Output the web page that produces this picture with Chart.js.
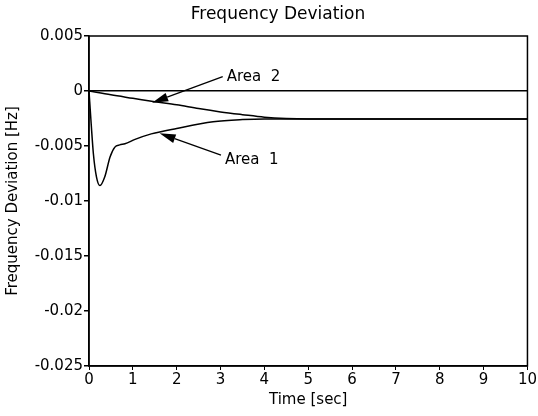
<!DOCTYPE html>
<html>
<head>
<meta charset="utf-8">
<script src="https://cdn.jsdelivr.net/npm/chart.js@4"></script>
<style>
  html, body { margin: 0; padding: 0; background: #fff; }
  #wrap { width: 538px; height: 416px; }
</style>
</head>
<body>
<div id="wrap"><canvas id="freqChart"></canvas></div>
<script>
// time axis (sec) and frequency deviation (Hz)
const area1Time = [0, 0.05, 0.1, 0.17, 0.25, 0.36, 0.48, 0.59, 0.7, 0.82, 1.05, 1.42, 2.0, 2.83, 3.5, 4.0, 5, 6, 7, 8, 9, 10];
const area1Dev = [0, -0.003, -0.0057, -0.0078, -0.0086, -0.0078, -0.006, -0.0051, -0.0049, -0.0048, -0.0044, -0.0039, -0.0034, -0.0028, -0.0026, -0.00254, -0.00254, -0.00254, -0.00254, -0.00254, -0.00254, -0.00254];

const area2Time = [0, 0.5, 1.0, 1.5, 2.0, 2.5, 3.0, 3.5, 4.0, 4.5, 5, 6, 7, 8, 9, 10];
const area2Dev = [0, -0.00035, -0.00066, -0.00097, -0.00126, -0.0016, -0.0019, -0.00215, -0.00238, -0.0025, -0.00254, -0.00254, -0.00254, -0.00254, -0.00254, -0.00254];

const xTicks = [0, 1, 2, 3, 4, 5, 6, 7, 8, 9, 10];
const yTicks = [0.005, 0, -0.005, -0.01, -0.015, -0.02, -0.025];

// arrow callouts: label, text anchor, arrow tail, arrow tip (data units)
const callouts = [
  {text: 'Area  2', at: [3.14, 0.00127], tail: [3.05, 0.0013], tip: [1.44, -0.00106]},
  {text: 'Area  1', at: [3.1, -0.00627], tail: [3.01, -0.00582], tip: [1.61, -0.00385]}
];

const chartTitle = 'Frequency Deviation';

const toPoints = (xs, ys) => xs.map((x, i) => ({x: x, y: ys[i]}));

const font = "'DejaVu Sans', 'Liberation Sans', sans-serif";

const frameAndArrows = {
  id: 'frameAndArrows',
  afterDatasetsDraw(chart) {
    const {ctx, chartArea, scales} = chart;
    ctx.save();
    ctx.strokeStyle = '#000';
    ctx.lineWidth = 1.5;
    ctx.strokeRect(chartArea.left, chartArea.top, chartArea.right - chartArea.left, chartArea.bottom - chartArea.top);

    ctx.fillStyle = '#000';
    ctx.textBaseline = 'middle';

    // title sits a little left of the plot centre, as in the original
    ctx.font = '17px ' + font;
    ctx.textAlign = 'center';
    ctx.fillText(chartTitle, 278, 15);

    ctx.font = '15px ' + font;
    ctx.textAlign = 'left';
    callouts.forEach(c => {
      const tx = scales.x.getPixelForValue(c.tail[0]);
      const ty = scales.y.getPixelForValue(c.tail[1]);
      const hx = scales.x.getPixelForValue(c.tip[0]);
      const hy = scales.y.getPixelForValue(c.tip[1]);
      const ang = Math.atan2(hy - ty, hx - tx);
      const len = 16, half = 4.5;
      const bx = hx - len * Math.cos(ang), by = hy - len * Math.sin(ang);
      ctx.lineWidth = 1.3;
      ctx.beginPath();
      ctx.moveTo(tx, ty);
      ctx.lineTo(bx, by);
      ctx.stroke();
      ctx.beginPath();
      ctx.moveTo(hx, hy);
      ctx.lineTo(bx + half * Math.sin(ang), by - half * Math.cos(ang));
      ctx.lineTo(bx - half * Math.sin(ang), by + half * Math.cos(ang));
      ctx.closePath();
      ctx.fill();
      ctx.fillText(c.text, scales.x.getPixelForValue(c.at[0]), scales.y.getPixelForValue(c.at[1]));
    });
    ctx.restore();
  }
};

new Chart(document.getElementById('freqChart'), {
  type: 'line',
  data: {
    datasets: [{
      label: 'Area 1',
      data: toPoints(area1Time, area1Dev),
      borderColor: '#000',
      borderWidth: 1.5,
      pointRadius: 0,
      cubicInterpolationMode: 'monotone',
      fill: false
    }, {
      label: 'Area 2',
      data: toPoints(area2Time, area2Dev),
      borderColor: '#000',
      borderWidth: 1.5,
      pointRadius: 0,
      cubicInterpolationMode: 'monotone',
      fill: false
    }]
  },
  options: {
    responsive: true,
    maintainAspectRatio: false,
    animation: false,
    layout: {padding: {left: 0, right: 9, top: 36, bottom: 0}},
    plugins: {
      legend: {display: false},
      tooltip: {enabled: false},
      title: {display: false}
    },
    scales: {
      x: {
        type: 'linear',
        min: 0,
        max: 10,
        afterBuildTicks: (axis) => { axis.ticks = xTicks.map(v => ({value: v})); },
        afterFit: (axis) => { axis.height = 50; },
        border: {display: true, color: '#000', width: 1.5},
        grid: {drawOnChartArea: false, drawTicks: true, tickLength: 4, tickColor: '#000'},
        ticks: {color: '#000', padding: 1, maxRotation: 0, font: {family: font, size: 15}},
        title: {
          display: true,
          text: 'Time [sec]',
          color: '#000',
          font: {family: font, size: 15},
          padding: {top: 0, bottom: 7}
        }
      },
      y: {
        min: -0.025,
        max: 0.005,
        afterBuildTicks: (axis) => { axis.ticks = yTicks.map(v => ({value: v})); },
        afterFit: (axis) => { axis.width = 89; },
        border: {display: true, color: '#000', width: 1.5},
        grid: {
          drawOnChartArea: true,
          drawTicks: true,
          tickLength: 5,
          tickColor: '#000',
          lineWidth: 1.5,
          color: (c) => (c.tick && c.tick.value === 0) ? '#000' : 'rgba(0,0,0,0)'
        },
        ticks: {
          color: '#000',
          padding: 1,
          font: {family: font, size: 15},
          callback: (v) => String(+Number(v).toFixed(3))
        },
        title: {
          display: true,
          text: 'Frequency Deviation [Hz]',
          color: '#000',
          font: {family: font, size: 15},
          padding: {top: 4, bottom: 4}
        }
      }
    }
  },
  plugins: [frameAndArrows]
});
</script>
</body>
</html>
